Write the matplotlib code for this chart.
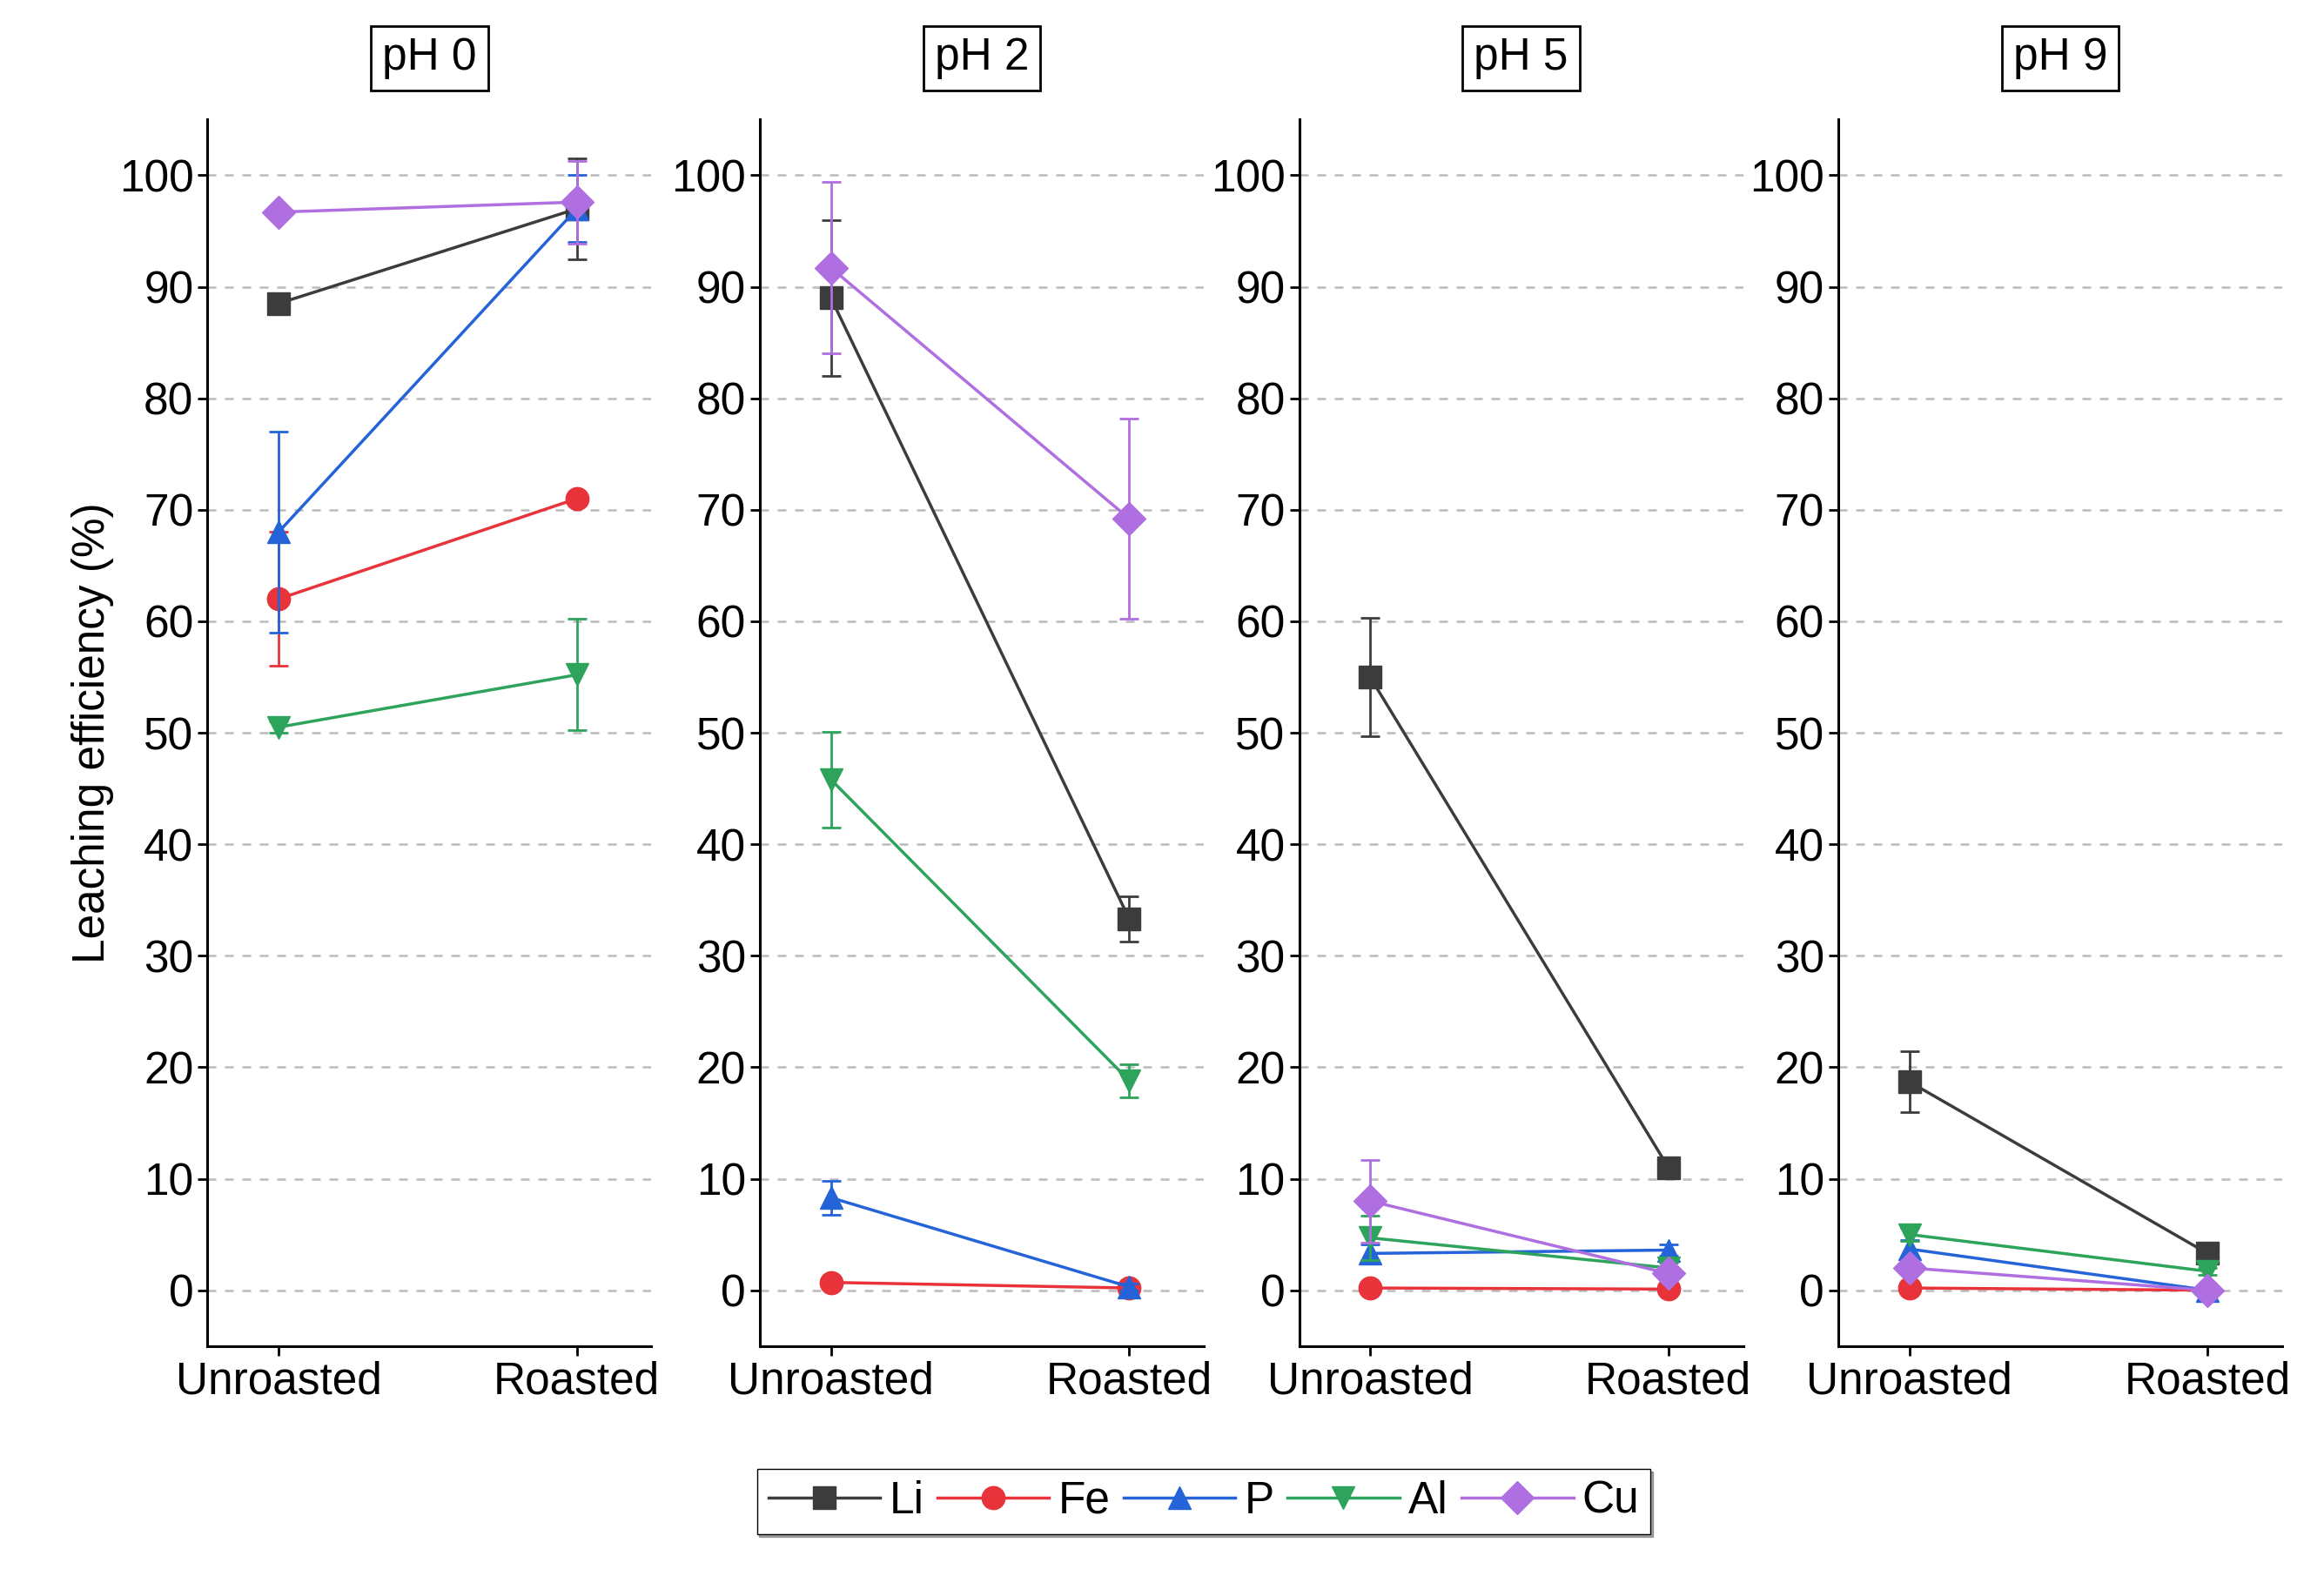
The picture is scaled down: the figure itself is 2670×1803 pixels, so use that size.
import matplotlib
matplotlib.use("Agg")
import matplotlib.pyplot as plt
from matplotlib.lines import Line2D

plt.rcParams["font.family"] = "Liberation Sans"

panels = ["pH 0", "pH 2", "pH 5", "pH 9"]
conditions = ["Unroasted", "Roasted"]
elements = ["Li", "Fe", "P", "Al", "Cu"]
colors = ["#3c3c3c", "#e8333b", "#2563d9", "#2ea35c", "#b06fe0"]
markers = ["s", "o", "^", "v", "D"]

li_vals = [[88.5, 97.0], [89.0, 33.3], [55.0, 11.0], [18.7, 3.3]]
li_err = [[0.5, 4.5], [7.0, 2.0], [5.3, 0.5], [2.7, 0.5]]
fe_vals = [[62.0, 71.0], [0.7, 0.2], [0.2, 0.1], [0.2, 0.0]]
fe_err = [[6.0, 0.5], [0.3, 0.2], [0.2, 0.1], [0.2, 0.1]]
p_vals = [[68.0, 97.0], [8.3, 0.3], [3.3, 3.6], [3.7, 0.0]]
p_err = [[9.0, 3.0], [1.5, 0.3], [0.8, 0.5], [0.8, 0.2]]
al_vals = [[50.5, 55.2], [45.8, 18.8], [4.7, 2.0], [5.0, 1.7]]
al_err = [[0.5, 5.0], [4.3, 1.5], [2.0, 0.5], [0.6, 0.3]]
cu_vals = [[96.7, 97.6], [91.7, 69.2], [8.0, 1.5], [2.0, 0.0]]
cu_err = [[0.5, 3.7], [7.7, 9.0], [3.7, 0.5], [0.5, 0.2]]

all_vals = [li_vals, fe_vals, p_vals, al_vals, cu_vals]
all_err = [li_err, fe_err, p_err, al_err, cu_err]

fig = plt.figure(figsize=(26.7, 18.03), dpi=100)
lefts = [0.0893, 0.327, 0.559, 0.791]
fs = 37
for i, name in enumerate(panels):
    ax = fig.add_axes([lefts[i], 0.1418, 0.191, 0.782])
    for k, el in enumerate(elements):
        ax.errorbar([0, 1], all_vals[k][i], yerr=all_err[k][i], color=colors[k],
                    marker=markers[k], markersize=19, lw=2.5, capsize=8,
                    elinewidth=2, capthick=2, zorder=3 + k)
    ax.set_xlim(-0.238, 1.25)
    ax.set_ylim(-5.05, 105)
    ax.set_yticks(range(0, 101, 10))
    ax.set_xticks([0, 1])
    ax.set_xticklabels(conditions)
    ax.tick_params(labelsize=fs, width=2, length=8, direction="out")
    ax.yaxis.grid(True, ls=(0, (4, 4)), color="#bbbbbb", lw=1.8)
    ax.set_axisbelow(True)
    for s in ["top", "right"]:
        ax.spines[s].set_visible(False)
    for s in ["left", "bottom"]:
        ax.spines[s].set_linewidth(2.2)
    if i == 0:
        ax.set_ylabel("Leaching efficiency (%)", fontsize=fs, labelpad=4)
    ax.text(0.5, 1.05, name, transform=ax.transAxes, fontsize=fs, ha="center", va="center",
            bbox=dict(boxstyle="square,pad=0.25", fc="white", ec="black", lw=2))

handles = [Line2D([], [], color=c, marker=m, markersize=19, lw=2.5) for c, m in zip(colors, markers)]
fig.legend(handles, elements, loc="center", bbox_to_anchor=(0.518, 0.043), ncol=5,
           fontsize=fs, frameon=True, edgecolor="black", fancybox=False, shadow=True,
           handlelength=2.5, columnspacing=0.3, handletextpad=0.2, borderpad=0.25)
fig.savefig("out.png", dpi=100)
